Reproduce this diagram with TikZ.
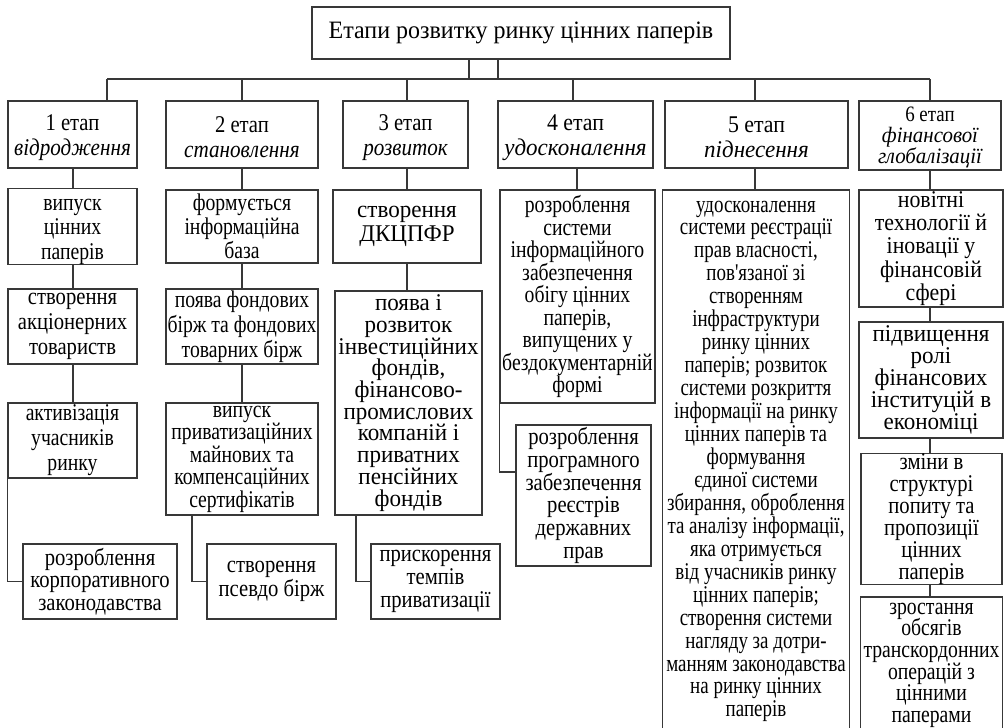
\documentclass[tikz,border=0pt]{standalone}
\usepackage{fontspec}
\setmainfont{Liberation Serif}
\newfontfamily\ffS[FakeStretch=0.82]{Liberation Serif}
\newfontfamily\ffN[FakeStretch=0.86]{Liberation Serif}
\newfontfamily\ffV[FakeStretch=0.79]{Liberation Serif}
\newfontfamily\ffM[FakeStretch=0.91]{Liberation Serif}
\newfontfamily\ffW[FakeStretch=0.96]{Liberation Serif}
\newfontfamily\ffI[FakeStretch=0.88]{Liberation Serif}
\newfontfamily\ffJ[FakeStretch=0.95]{Liberation Serif}
\newcommand\F[2]{#1\fontsize{24}{#2}\selectfont\lineskiplimit=-30pt\relax}
\newcommand\lift[1]{\rule{0pt}{#1}}
\tikzset{
  box/.style={draw=black!78, line width=1.3pt, align=center, inner sep=0pt, font=\F\ffS{23}, text=black},
  txt/.style={draw=none, align=center, inner xsep=0pt, text=black},
  link/.style={draw=black!78, line width=1.3pt},
}
\begin{document}
\begin{tikzpicture}[x=1pt, y=-1pt]
\useasboundingbox (0,0) rectangle (1005,728);
\clip (0,0) rectangle (1005,728);
\fill[white] (0,0) rectangle (1005,728);

% title
\node[box, font={\ffW\fontsize{25}{28}\selectfont}, minimum width=418pt, minimum height=52pt] (t) at (521,33) {Етапи розвитку ринку цінних паперів};
\coordinate (busL) at (107,79);
\coordinate (busR) at (930,79);
\draw[link] (busL) -- (busR);
\draw[link] (t.south -| 469,0) -- (469,79);
\draw[link] (t.south -| 498,0) -- (498,79);

% stages
\node[box, font=\F\ffN{25}, minimum width=129pt, minimum height=67pt] (s1) at (72.5,134.5) {\lift{22pt}1 етап\\{\ffI\itshape відродження}};
\node[box, font=\F\ffN{25}, minimum width=152pt, minimum height=67pt] (s2) at (242,134.5) {\lift{22pt}2 етап\\{\ffI\itshape становлення}};
\node[box, font=\F\ffN{25}, minimum width=125pt, minimum height=67pt] (s3) at (405.5,134.5) {\lift{22pt}3 етап\\{\ffI\itshape розвиток}};
\node[box, font=\F\ffM{25}, minimum width=155pt, minimum height=67pt] (s4) at (575.5,134.5) {\lift{22pt}4 етап\\{\ffW\itshape удосконалення}};
\node[box, font=\F\ffM{25}, minimum width=183pt, minimum height=67pt] (s5) at (756.5,134.5) {\lift{22pt}5 етап\\{\ffW\itshape піднесення}};
\node[box, font={\ffN\fontsize{22}{21}\selectfont\lineskiplimit=-30pt}, minimum width=142pt, minimum height=69pt] (s6) at (930,135.5) {\lift{19pt}6 етап\\{\ffJ\itshape фінансової}\\{\ffJ\itshape глобалізації}};

\draw[link] (s1.north -| busL) -- (busL);
\draw[link] (s2.north -| 242,0) -- (242,79);
\draw[link] (s3.north -| 407,0) -- (407,79);
\draw[link] (s4.north -| 573,0) -- (573,79);
\draw[link] (s5.north -| 755,0) -- (755,79);
\draw[link] (s6.north -| busR) -- (busR);

% column 1
\node[box, font=\F\ffS{24.5}, minimum width=129pt, minimum height=73pt] (a1) at (72.5,226.5) {\lift{22pt}випуск\\цінних\\паперів};
\node[box, font=\F\ffN{25}, minimum width=129pt, minimum height=75pt] (a2) at (72.5,326.5) {створення\\акціонерних\\товариств};
\node[box, font=\F\ffS{25}, minimum width=129pt, minimum height=75pt] (a3) at (72.5,440.5) {активізація\\учасників\\ринку};
\node[box, font=\F\ffN{22.5}, minimum width=154pt, minimum height=75pt] (a4) at (100,581.5) {розроблення\\корпоративного\\законодавства};
\draw[link] (s1.south -| 73,0) -- (a1.north -| 73,0);
\draw[link] (a1.south -| 73,0) -- (a2.north -| 73,0);
\draw[link] (a2.south -| 73,0) -- (a3.north -| 73,0);
\draw[link] (a3.south west) |- (a4.west);

% column 2
\node[box, font=\F\ffS{24}, minimum width=152pt, minimum height=73pt] (b1) at (242,226.5) {формується\\інформаційна\\база};
\node[box, font=\F\ffS{25}, minimum width=152pt, minimum height=75pt] (b2) at (242,326.5) {поява фондових\\бірж та фондових\\товарних бірж};
\node[box, font=\F\ffS{22.5}, minimum width=152pt, minimum height=112pt] (b3) at (242,459) {випуск\\приватизаційних\\майнових та\\компенсаційних\\сертифікатів};
\node[box, font=\F\ffN{23.3}, minimum width=129pt, minimum height=75pt] (b4) at (271.5,581.5) {створення\\псевдо бірж};
\draw[link] (s2) -- (b1);
\draw[link] (b1) -- (b2);
\draw[link] (b2) -- (b3);
\draw[link] (b3.south -| 192,0) |- (b4.west);

% column 3
\node[box, font=\F\ffW{23.3}, minimum width=148pt, minimum height=73pt] (c1) at (407,226.5) {створення\\ДКЦПФР};
\node[box, font=\F\ffW{21.7}, minimum width=147pt, minimum height=224pt] (c2) at (408.5,403) {поява і\\розвиток\\інвестиційних\\фондів,\\фінансово-\\промислових\\компаній і\\приватних\\пенсійних\\фондів};
\node[box, font=\F\ffN{23.3}, minimum width=129pt, minimum height=75pt] (c3) at (435.5,581.5) {прискорення\\темпів\\приватизації};
\draw[link] (s3.south -| 407,0) -- (c1.north -| 407,0);
\draw[link] (c1.south -| 407,0) -- (c2.north -| 407,0);
\draw[link] (c2.south -| 356,0) |- (c3.west);

% column 4
\node[box, font=\F\ffS{22.5}, minimum width=155pt, minimum height=213pt] (d1) at (577.5,296.5) {розроблення\\системи\\інформаційного\\забезпечення\\обігу цінних\\паперів,\\випущених у\\бездокументарній\\формі};
\node[box, font=\F\ffN{22.9}, minimum width=135pt, minimum height=141pt] (d2) at (583.5,495.5) {розроблення\\програмного\\забезпечення\\реєстрів\\державних\\прав};
\draw[link] (s4.south -| 577,0) -- (d1.north -| 577,0);
\draw[link] (d1.south west) |- (d2.west |- 0,472);

% column 5
\node[txt, font=\F\ffV{22.95}, anchor=north, minimum width=186pt, inner ysep=10.5pt] (e1) at (756,190) {удосконалення\\системи реєстрації\\прав власності,\\пов\symbol{39}язаної зі\\створенням\\інфраструктури\\ринку цінних\\паперів; розвиток\\системи розкриття\\інформації на ринку\\цінних паперів та\\формування\\єдиної системи\\збирання, оброблення\\та аналізу інформації,\\яка отримується\\від учасників ринку\\цінних паперів;\\створення системи\\нагляду за дотри-\\манням законодавства\\на ринку цінних\\паперів};
\draw[link] (e1.north west) rectangle (e1.north east |- 0,745);
\draw[link] (s5.south -| 755,0) -- (e1.north -| 755,0);

% column 6
\node[box, font=\F\ffM{23.3}, minimum width=144pt, minimum height=117pt] (f1) at (931,248.5) {новітні\\технології й\\іновації у\\фінансовій\\сфері};
\node[box, font=\F\ffW{22}, minimum width=144pt, minimum height=116pt] (f2) at (931,380) {підвищення\\ролі\\фінансових\\інституцій в\\економіці};
\node[box, font=\F\ffN{22}, minimum width=141pt, minimum height=130pt] (f3) at (931.5,519) {зміни в\\структурі\\попиту та\\пропозиції\\цінних\\паперів};
\node[txt, font=\F\ffS{21.7}, anchor=north, minimum width=141pt, inner ysep=5.5pt] (f4) at (931.5,597) {зростання\\обсягів\\транскордонних\\операцій з\\цінними\\паперами};
\draw[link] (f4.north west) rectangle (f4.north east |- 0,745);
\draw[link] (s6.south -| 930,0) -- (f1.north -| 930,0);
\draw[link] (f1.south -| 930,0) -- (f2.north -| 930,0);
\draw[link] (f2.south -| 930,0) -- (f3.north -| 930,0);
\draw[link] (f3.south -| 930,0) -- (f4.north -| 930,0);
\end{tikzpicture}
\end{document}
